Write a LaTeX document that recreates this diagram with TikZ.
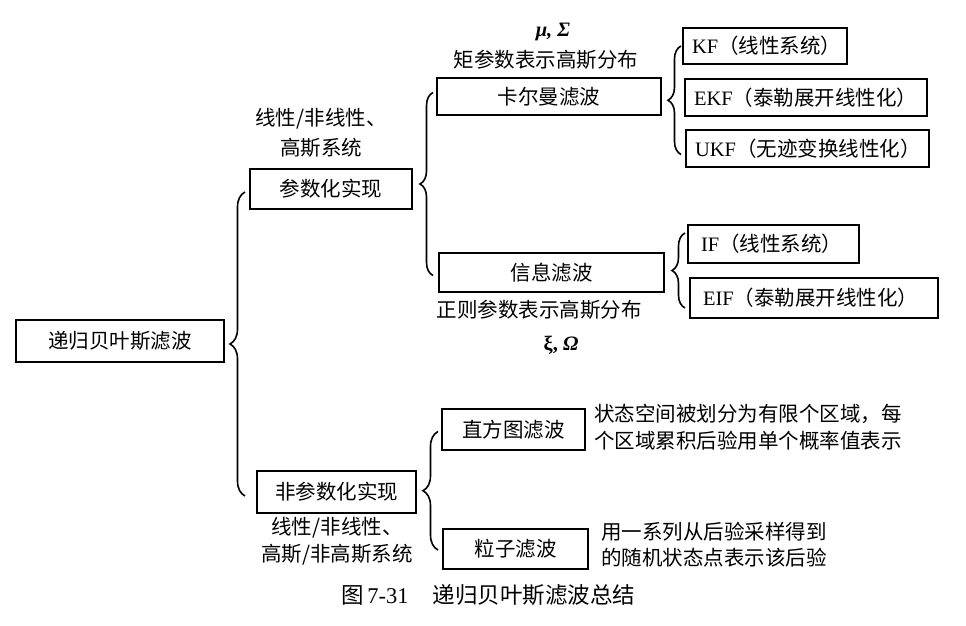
\documentclass[tikz,border=0pt]{standalone}
\usepackage{fontspec}
\setmainfont{Liberation Serif}
\newfontfamily\cjk{Noto Sans CJK SC}
\usetikzlibrary{decorations.pathreplacing,calc}
\begin{document}
\begin{tikzpicture}[x=1pt,y=1pt,
  box/.style={draw, line width=2.2pt, inner sep=0pt, font=\fontsize{20.5}{24}\selectfont},
  cbox/.style={box, align=center},
  lbox/.style={box, inner xsep=9pt, inner ysep=0pt, align=left, text width=#1},
  txt/.style={inner sep=0pt, font=\fontsize{20.5}{24}\selectfont},
  brc/.style={decorate, decoration={brace, amplitude=#1}, line width=1.6pt},
]
\useasboundingbox (0,0) rectangle (966,-626);

% boxes
\node[cbox, minimum width=208pt, minimum height=42pt] (root) at (120,-341) {\cjk 递归贝叶斯滤波};
\node[cbox, minimum width=162pt, minimum height=40pt] (param) at (331,-189) {\cjk 参数化实现};
\node[cbox, minimum width=159pt, minimum height=42pt] (nonparam) at (336.5,-492) {\cjk 非参数化实现};
\node[cbox, minimum width=224pt, minimum height=37pt] (kalman) at (549,-96.5) {\cjk 卡尔曼滤波};
\node[cbox, minimum width=225pt, minimum height=39pt] (info) at (551.5,-272.5) {\cjk 信息滤波};
\node[lbox=146pt, minimum height=36pt] (kf) at (765,-46) {KF{\cjk（线性系统）}};
\node[lbox=224pt, minimum height=37pt] (ekf) at (806,-97.5) {EKF{\cjk（泰勒展开线性化）}};
\node[lbox=225pt, minimum height=37pt] (ukf) at (807.5,-148.5) {UKF{\cjk（无迹变换线性化）}};
\node[lbox=145pt, inner xsep=13pt, minimum height=38pt] (if) at (773.5,-244) {IF{\cjk（线性系统）}};
\node[lbox=222pt, inner xsep=13pt, minimum height=40pt] (eif) at (814,-298) {EIF{\cjk（泰勒展开线性化）}};
\node[cbox, minimum width=143pt, minimum height=41pt] (hist) at (513.5,-429.5) {\cjk 直方图滤波};
\node[cbox, minimum width=145pt, minimum height=40pt] (particle) at (515.5,-549) {\cjk 粒子滤波};

% labels
\node[txt, align=center, font=\fontsize{20.5}{30}\selectfont] (lab1) at (321,-133) {\cjk 线性/非线性、\\\cjk 高斯系统};
\node[txt, align=center, font=\fontsize{20.5}{27}\selectfont] (lab2) at (337,-541) {\cjk 线性/非线性、\\\cjk 高斯/非高斯系统};
\node[txt] (musig) at (553,-32) {\bfseries\itshape μ, Σ};
\node[txt] (moment) at (546,-60) {\cjk 矩参数表示高斯分布};
\node[txt] (canon) at (539,-310) {\cjk 正则参数表示高斯分布};
\node[txt] (xiom) at (561,-345) {\bfseries ξ, \itshape Ω};
\node[txt, anchor=west, align=left, font=\fontsize{20.5}{27}\selectfont] (histtxt) at (594,-427) {\cjk 状态空间被划分为有限个区域，每\\\cjk 个区域累积后验用单个概率值表示};
\node[txt, anchor=west, align=left, font=\fontsize{20.5}{26}\selectfont] (parttxt) at (601,-545) {\cjk 用一系列从后验采样得到\\\cjk 的随机状态点表示该后验};
\node[txt, anchor=west, font=\fontsize{22.5}{26}\selectfont] (caption) at (341,-595) {{\cjk 图}\,7-31\hspace{24pt}{\cjk 递归贝叶斯滤波总结}};

% braces
\coordinate (bx0) at (245,0);
\coordinate (bx1) at (433,0);
\coordinate (bx2) at (681,0);
\coordinate (bx3) at (685,0);
\coordinate (bx4) at (438,0);
\draw[brc=15pt] ($(nonparam.west -| bx0)+(0,-4)$) -- ($(param.west -| bx0)+(0,-3)$);
\draw[brc=13pt] ($(info.west -| bx1)+(0,-3)$) -- ($(kalman.west -| bx1)+(0,4)$);
\draw[brc=13pt] ($(ukf.west -| bx2)+(0,-6)$) -- ($(kf.west -| bx2)+(0,0)$);
\draw[brc=13pt] ($(eif.west -| bx3)+(0,-10)$) -- ($(if.west -| bx3)+(0,11)$);
\draw[brc=15pt] ($(particle.west -| bx4)+(0,-1)$) -- ($(hist.west -| bx4)+(0,-2)$);
\end{tikzpicture}
\end{document}
